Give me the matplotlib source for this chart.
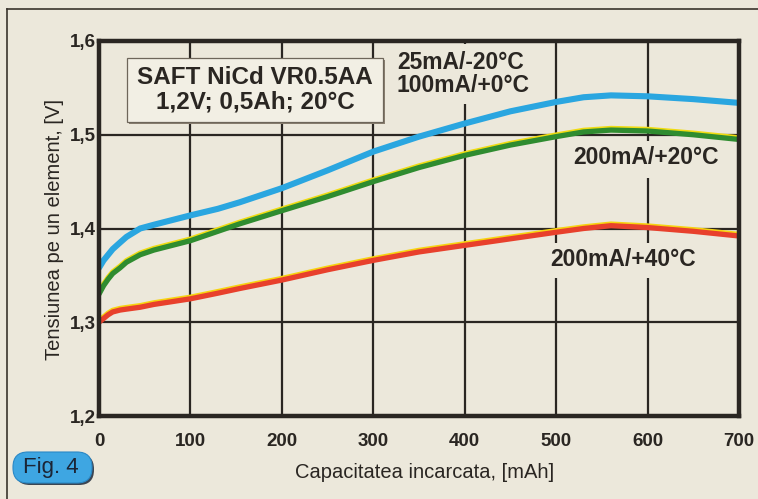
import matplotlib
matplotlib.use("Agg")
import matplotlib.pyplot as plt
from matplotlib import transforms
from matplotlib.patches import FancyBboxPatch, Rectangle
from matplotlib.lines import Line2D

plt.rcParams['font.family'] = ['Liberation Sans', 'DejaVu Sans']

# ---- data ----
capacity = [0, 5, 10, 15, 23, 30, 45, 60, 80, 100, 130, 154, 200, 250, 300,
            350, 400, 450, 500, 530, 560, 600, 650, 700]
v_blue  = [1.358, 1.366, 1.372, 1.378, 1.385, 1.391, 1.400, 1.404, 1.409, 1.414, 1.421, 1.428,
           1.443, 1.462, 1.482, 1.498, 1.512, 1.525, 1.535, 1.540, 1.542, 1.541, 1.538, 1.534]
v_green = [1.330, 1.339, 1.346, 1.352, 1.358, 1.364, 1.372, 1.377, 1.382, 1.387, 1.397, 1.405,
           1.419, 1.434, 1.450, 1.465, 1.478, 1.489, 1.498, 1.503, 1.505, 1.504, 1.500, 1.495]
v_red   = [1.300, 1.304, 1.308, 1.311, 1.313, 1.314, 1.316, 1.319, 1.322, 1.325, 1.331, 1.336,
           1.345, 1.356, 1.366, 1.375, 1.382, 1.389, 1.396, 1.400, 1.403, 1.401, 1.397, 1.392]

x_ticks = [0, 100, 200, 300, 400, 500, 600, 700]
x_tick_labels = ['0', '100', '200', '300', '400', '500', '600', '700']
y_ticks = [1.2, 1.3, 1.4, 1.5, 1.6]
y_tick_labels = ['1,2', '1,3', '1,4', '1,5', '1,6']

title_text = "SAFT NiCd VR0.5AA\n1,2V; 0,5Ah; 20°C"
label_blue = "25mA/-20°C\n100mA/+0°C"
label_green = "200mA/+20°C"
label_red = "200mA/+40°C"
x_label = "Capacitatea incarcata, [mAh]"
y_label = "Tensiunea pe un element, [V]"
fig_label = "Fig. 4"

BG = '#ece8db'
INK = '#2a2622'
W, H = 758, 499

fig = plt.figure(figsize=(W/100, H/100), dpi=100, facecolor=BG)
ax = fig.add_axes([99/W, 1-416/H, 640/W, 375/H])
ax.set_facecolor(BG)
PIX = transforms.IdentityTransform()

def fx(px):
    return px / W

def fy(py):
    return 1 - py / H

ax.set_xlim(0, 700)
ax.set_ylim(1.2, 1.6)
ax.set_xticks(x_ticks)
ax.set_xticklabels(x_tick_labels)
ax.set_yticks(y_ticks)
ax.set_yticklabels(y_tick_labels)
ax.tick_params(length=0, labelsize=13.5, colors=INK)
ax.tick_params(axis='x', pad=12)
ax.tick_params(axis='y', pad=2.5)
for lab in ax.get_xticklabels() + ax.get_yticklabels():
    lab.set_fontweight('bold')

ax.set_axisbelow(True)
ax.grid(True, color=INK, linewidth=1.6)
for sp in ax.spines.values():
    sp.set_linewidth(3.2)
    sp.set_color(INK)
    sp.set_zorder(7)

fig.text(fx(425), fy(472), x_label, ha='center', va='center', fontsize=14.5, color=INK)
fig.text(fx(55), fy(230), y_label, ha='center', va='center', rotation=90, fontsize=14.5, color=INK)

# paper-coloured patches behind the curve labels (they break the grid), inside the axes
for (x0, y0, x1, y1) in [(388, 44, 540, 104), (568, 141, 724, 178), (545, 243, 702, 278)]:
    ax.add_patch(Rectangle((x0, H - y1), x1 - x0, y1 - y0, transform=PIX,
                           facecolor=BG, edgecolor='none', zorder=3))

# title box (inside the axes, above the grid)
ax.add_patch(Rectangle((129, H - 124), 256, 64, transform=PIX, facecolor='#8a8070',
                       edgecolor='none', zorder=3))
ax.add_patch(Rectangle((127, H - 122), 256, 64, transform=PIX, facecolor='#f2efe4',
                       edgecolor='#6e665a', lw=0.9, zorder=3.1))

# curves
yel_tr = transforms.offset_copy(ax.transData, fig=fig, x=0, y=1.6, units='dots')
ax.plot(capacity, v_blue, color='#2aa6e0', lw=4.4, solid_capstyle='round', zorder=5)
ax.plot(capacity, v_green, color='#f0dc12', lw=3.8, transform=yel_tr, solid_capstyle='round', zorder=5)
ax.plot(capacity, v_green, color='#2f8c30', lw=3.8, solid_capstyle='round', zorder=6)
ax.plot(capacity, v_red, color='#f7d410', lw=3.8, transform=yel_tr, solid_capstyle='round', zorder=5)
ax.plot(capacity, v_red, color='#e8402c', lw=3.8, solid_capstyle='round', zorder=6)

fig.text(fx(255), fy(90), title_text, ha='center', va='center', fontsize=17.5,
         fontweight='bold', color=INK, linespacing=1.08, zorder=4)

# curve labels
fig.text(fx(397), fy(74), label_blue, ha='left', va='center', fontsize=16.5,
         fontweight='bold', color=INK, linespacing=1.0, zorder=4)
fig.text(fx(646), fy(158), label_green, ha='center', va='center', fontsize=16.5,
         fontweight='bold', color=INK, zorder=4)
fig.text(fx(623), fy(260), label_red, ha='center', va='center', fontsize=16.5,
         fontweight='bold', color=INK, zorder=4)

# outer frame lines
fig.add_artist(Line2D([fx(7), fx(7)], [0, fy(9)], transform=fig.transFigure, color='#3a342c', lw=1.2))
fig.add_artist(Line2D([fx(7), 1], [fy(9), fy(9)], transform=fig.transFigure, color='#3a342c', lw=1.2))

# Fig. 4 badge
fig.add_artist(FancyBboxPatch((15, H - 485), 79, 31, transform=PIX,
                              boxstyle='round,pad=0,rounding_size=15', facecolor='#3c4552',
                              edgecolor='none', zorder=3))
fig.add_artist(FancyBboxPatch((13, H - 483), 79, 31, transform=PIX,
                              boxstyle='round,pad=0,rounding_size=15', facecolor='#3ea6e2',
                              edgecolor='#2a88c6', lw=0.8, zorder=3.1))
fig.text(fx(51), fy(467), fig_label, ha='center', va='center', fontsize=16, color='#1b2536', zorder=4)

fig.savefig('out.png', dpi=100, facecolor=BG)
